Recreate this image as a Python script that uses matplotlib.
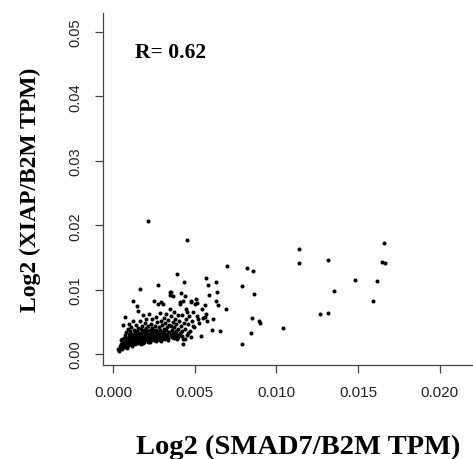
import matplotlib.pyplot as plt
import numpy as np

# SMAD7 (x) and XIAP (y)
smad7 = [
    0.00032, 0.00038, 0.00041, 0.00046, 0.00049, 0.00052, 0.00055, 0.00058, 0.00061, 0.00063, 0.00066, 0.00068,
    0.00071, 0.00072, 0.00074, 0.00077, 0.00079, 0.00081, 0.00083, 0.00086, 0.00088, 0.00090, 0.00092, 0.00094, 0.00097, 0.00099,
    0.00101, 0.00103, 0.00105, 0.00107, 0.00109, 0.00111, 0.00113, 0.00115, 0.00117, 0.00119, 0.00121, 0.00123, 0.00125, 0.00127, 0.00129,
    0.00131, 0.00133, 0.00135, 0.00137, 0.00139, 0.00141, 0.00143, 0.00145, 0.00147, 0.00149, 0.00151, 0.00153, 0.00155, 0.00157, 0.00159,
    0.00161, 0.00163, 0.00165, 0.00167, 0.00169, 0.00171, 0.00173, 0.00175, 0.00177, 0.00179, 0.00181, 0.00183, 0.00185, 0.00187, 0.00189,
    0.00191, 0.00193, 0.00195, 0.00197, 0.00199,
    0.00202, 0.00204, 0.00206, 0.00208, 0.00210, 0.00212, 0.00214, 0.00216, 0.00218, 0.00220, 0.00222, 0.00224, 0.00226, 0.00228,
    0.00230, 0.00232, 0.00234, 0.00236, 0.00238, 0.00240, 0.00243, 0.00246, 0.00249,
    0.00252, 0.00254, 0.00256, 0.00258, 0.00260, 0.00262, 0.00264, 0.00266, 0.00268, 0.00270, 0.00273, 0.00275, 0.00277, 0.00279,
    0.00281, 0.00283, 0.00285, 0.00287, 0.00289, 0.00291, 0.00293, 0.00295, 0.00297, 0.00299,
    0.00302, 0.00304, 0.00306, 0.00308, 0.00310, 0.00312, 0.00315, 0.00318, 0.00320, 0.00323, 0.00326, 0.00329, 0.00332, 0.00335,
    0.00338, 0.00341, 0.00344, 0.00347, 0.00349, 0.00349,
    0.00352, 0.00355, 0.00357, 0.00360, 0.00363, 0.00365, 0.00367, 0.00370, 0.00373, 0.00376, 0.00379, 0.00382, 0.00385, 0.00388,
    0.00391, 0.00394, 0.00396, 0.00399,
    0.00402, 0.00405, 0.00408, 0.00411, 0.00414, 0.00418, 0.00421, 0.00424, 0.00427, 0.00428, 0.00430, 0.00432, 0.00436, 0.00439,
    0.00442, 0.00445, 0.00447, 0.00451,
    0.00453, 0.00456, 0.00461, 0.00465, 0.00470, 0.00476, 0.00479, 0.00483, 0.00487, 0.00491, 0.00496,
    0.00504, 0.00508, 0.00512, 0.00516, 0.00522, 0.00528, 0.00537, 0.00543, 0.00548,
    0.00561, 0.00563, 0.00569, 0.00569, 0.00573, 0.00581, 0.00589, 0.00608, 0.00614, 0.00630, 0.00630, 0.00635, 0.00645, 0.00655,
    0.00690, 0.00696,
    0.00788, 0.00789, 0.00818, 0.00846, 0.00849, 0.00857, 0.00863, 0.00892, 0.00898, 0.01040, 0.01137, 0.01140, 0.01269, 0.01314,
    0.01318, 0.01353, 0.01479, 0.01593, 0.01614, 0.01646, 0.01658, 0.01665,
    0.00058, 0.00085, 0.00096, 0.00112, 0.00128, 0.00134, 0.00146, 0.00152, 0.00168, 0.00176, 0.00186, 0.00196, 0.00205, 0.00215,
    0.00225, 0.00235, 0.00245, 0.00255, 0.00265, 0.00275, 0.00285, 0.00295, 0.00305, 0.00316, 0.00328, 0.00338, 0.00358, 0.00372,
    0.00384, 0.00398, 0.00413, 0.00425, 0.00440, 0.00460, 0.00475,
]
xiap = [
    0.00078, 0.00052, 0.00125, 0.00095, 0.00160, 0.00210, 0.00070, 0.00135, 0.00182, 0.00448, 0.00105, 0.00245,
    0.00155, 0.00570, 0.00290, 0.00120, 0.00200, 0.00340, 0.00165, 0.00255, 0.00095, 0.00390, 0.00215, 0.00140, 0.00305, 0.00180,
    0.00470, 0.00235, 0.00150, 0.00350, 0.00270, 0.00195, 0.00420, 0.00125, 0.00310, 0.00225, 0.00830, 0.00520, 0.00170, 0.00280, 0.00380,
    0.00210, 0.00245, 0.00330, 0.00150, 0.00455, 0.00290, 0.00195, 0.00360, 0.00260, 0.00750, 0.00175, 0.00410, 0.00672, 0.00230, 0.00320,
    0.00270, 0.00520, 0.01005, 0.00195, 0.00385, 0.00300, 0.00155, 0.00240, 0.00440, 0.00345, 0.00210, 0.00600, 0.00280, 0.00365, 0.00250,
    0.00185, 0.00480, 0.00320, 0.00225, 0.00405,
    0.00290, 0.00540, 0.00210, 0.00355, 0.00260, 0.02065, 0.00430, 0.00180, 0.00310, 0.00235, 0.00620, 0.00380, 0.00275, 0.00200,
    0.00470, 0.00330, 0.00250, 0.00400, 0.00300, 0.00550, 0.00225, 0.00365, 0.00275,
    0.00820, 0.00210, 0.00440, 0.00320, 0.00250, 0.00580, 0.00380, 0.00290, 0.00230, 0.00490, 0.01071, 0.00340, 0.00781, 0.00265,
    0.00420, 0.00310, 0.00640, 0.00220, 0.00370, 0.00803, 0.00280, 0.00510, 0.00340, 0.00240,
    0.00450, 0.00300, 0.00776, 0.00260, 0.00390, 0.00560, 0.00330, 0.00230, 0.00480, 0.00365, 0.00620, 0.00280, 0.00420, 0.00250,
    0.00530, 0.00340, 0.00450, 0.00699, 0.00916, 0.00967,
    0.00300, 0.00590, 0.00958, 0.00380, 0.00260, 0.00495, 0.00905, 0.00330, 0.00650, 0.00420, 0.00285, 0.00540, 0.00360, 0.00470,
    0.00230, 0.01238, 0.00610, 0.00390,
    0.00300, 0.00520, 0.00776, 0.00803, 0.00430, 0.00947, 0.00350, 0.00600, 0.00160, 0.00828, 0.00233, 0.00480, 0.01123, 0.00905,
    0.00390, 0.00700, 0.00543, 0.00648,
    0.01770, 0.00300, 0.00466, 0.00590, 0.00360, 0.00818, 0.00803, 0.00520, 0.00430, 0.00648, 0.00414,
    0.00776, 0.00854, 0.00595, 0.00787, 0.00543, 0.00480, 0.00275, 0.00699, 0.00554,
    0.00766, 0.00570, 0.01175, 0.00621, 0.00517, 0.01067, 0.00911, 0.00373, 0.00543, 0.01123, 0.00818, 0.00963, 0.00760, 0.00362,
    0.00699, 0.01366,
    0.01048, 0.00158, 0.01328, 0.00321, 0.00562, 0.01289, 0.00924, 0.00508, 0.00481, 0.00404, 0.01410, 0.01626, 0.00616, 0.01460,
    0.00637, 0.00983, 0.01145, 0.00828, 0.01138, 0.01433, 0.01719, 0.01408,
    0.00230, 0.00115, 0.00260, 0.00165, 0.00205, 0.00290, 0.00215, 0.00300, 0.00230, 0.00285, 0.00170, 0.00260, 0.00330, 0.00270,
    0.00190, 0.00285, 0.00320, 0.00260, 0.00200, 0.00300, 0.00255, 0.00200, 0.00340, 0.00280, 0.00310, 0.00220, 0.00430, 0.00250,
    0.00310, 0.00270, 0.00330, 0.00280, 0.00240, 0.00320, 0.00270,
]
r_value = 0.62
xticks = [0.000, 0.005, 0.010, 0.015, 0.020]
yticks = [0.00, 0.01, 0.02, 0.03, 0.04, 0.05]

fig = plt.figure(figsize=(4.73, 4.60), dpi=100)
# axes runs a little past the right edge, like the cropped original
ax = fig.add_axes([103/473, 94/460, 390/473, 352/460])
ax.plot(smad7, xiap, 'o', color='black', ms=2.9, mew=0, clip_on=False)

ax.set_xlim(-0.000612, 0.02326)
ax.set_ylim(-0.00171, 0.05295)
ax.set_xticks(xticks)
ax.set_xticklabels(['%.3f' % v for v in xticks])
ax.set_yticks(yticks)
ax.set_yticklabels(['%.2f' % v for v in yticks])

for s in ['top', 'right']:
    ax.spines[s].set_visible(False)
for s in ['left', 'bottom']:
    ax.spines[s].set_color('#444444')
    ax.spines[s].set_linewidth(0.9)

ax.tick_params(axis='both', direction='out', length=6, width=0.9, color='#444444',
               labelcolor='#222222', pad=8.5)
ax.tick_params(axis='x', labelsize=11)
ax.tick_params(axis='y', labelsize=10.5)
for lab in ax.get_xticklabels() + ax.get_yticklabels():
    lab.set_family(['Liberation Sans', 'DejaVu Sans'])
for lab in ax.get_yticklabels():
    lab.set_rotation(90)
    lab.set_va('center')

serif = ['Liberation Serif', 'DejaVu Serif']
ax.set_xlabel('Log2 (SMAD7/B2M TPM)', family=serif, weight='bold', fontsize=20.5, va='center')
ax.xaxis.set_label_coords(0.5, -0.230)
ax.set_ylabel('Log2 (XIAP/B2M TPM)', family=serif, weight='bold', fontsize=17, va='center')
ax.yaxis.set_label_coords(-0.187, 0.5)

ax.text(0.00135, 0.0461, 'R= %.2f' % r_value, family=serif, weight='bold', fontsize=15.5, va='baseline')

plt.savefig('out.png', dpi=100)
